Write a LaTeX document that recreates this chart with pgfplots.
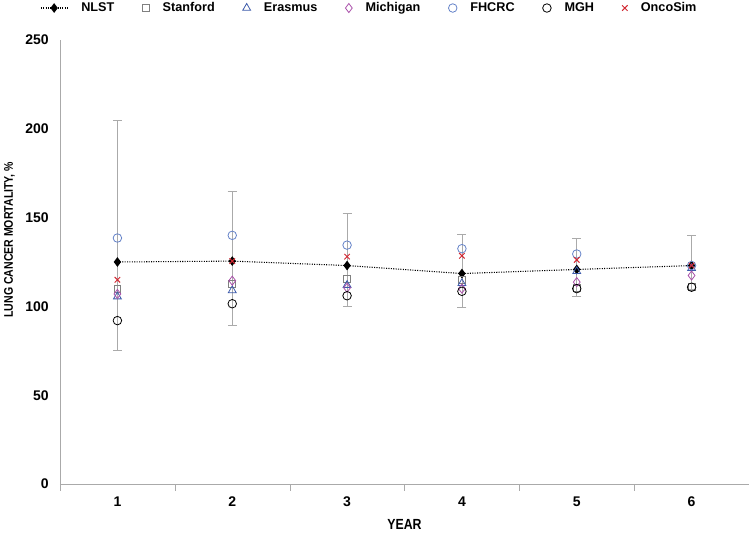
\documentclass[border=0pt]{standalone}
\usepackage{fontspec}
\setmainfont{Liberation Sans}
\newfontfamily\cond{Liberation Sans}[FakeStretch=0.84]
\usepackage{pgfplots}
\pgfplotsset{compat=1.18}
\definecolor{stanc}{RGB}{128,128,128}
\definecolor{erac}{RGB}{60,90,170}
\definecolor{micc}{RGB}{170,80,170}
\definecolor{fhc}{RGB}{100,130,200}
\definecolor{onc}{RGB}{210,40,50}
\definecolor{axc}{RGB}{170,170,170}
\pgfplotsset{
  markleg/.style={legend image code/.code={\draw[##1] plot coordinates {(0pt,0pt)};}},
  lineleg/.style={legend image code/.code={\draw[##1, mark repeat=2, mark phase=2] plot coordinates {(-10pt,0pt)(0pt,0pt)(10pt,0pt)};}},
}
\begin{document}
\begin{tikzpicture}
\begin{axis}[
  at={(0,0)}, anchor=origin,
  scale only axis,
  width=516.75pt, height=333pt,
  xmin=0.5, xmax=6.5, ymin=0, ymax=250,
  axis x line*=bottom, axis y line*=left,
  axis line style={axc, -},
  xtick={1,2,3,4,5,6},
  minor xtick={0.5,1.5,2.5,3.5,4.5,5.5,6.5},
  major tick length=0pt,
  minor tick length=5pt,
  tick align=outside,
  minor tick style={axc},
  ytick={0,50,100,150,200,250},
  tick label style={font=\fontsize{10.5}{12}\selectfont\bfseries},
  /pgf/number format/assume math mode=true,
  xticklabel style={yshift=-6pt},
  yticklabel style={xshift=-5pt},
  xlabel={YEAR},
  ylabel={LUNG CANCER MORTALITY, \%},
  xlabel style={font=\fontsize{11}{13}\selectfont\cond\bfseries, yshift=-3pt},
  ylabel style={font=\fontsize{9.4}{11}\selectfont\cond\bfseries, at={(ticklabel cs:0.55)}, yshift=1pt},
  clip=false,
  legend columns=-1,
  legend style={draw=none, fill=none, inner sep=0pt,
    font=\fontsize{9.5}{11}\selectfont\bfseries,
    at={(-0.029,1.072)}, anchor=west,
    /tikz/every odd column/.append style={column sep=8pt},
    /tikz/every even column/.append style={column sep=19pt}},
  legend cell align=left,
]
% error bars (NLST)
\addplot[draw=none, mark=none, forget plot,
  error bars/.cd, y dir=both, y explicit,
  error bar style={axc, line width=0.6pt},
  error mark options={axc, rotate=90, mark size=3.4pt, line width=0.6pt}]
coordinates {
 (1,125) += (0,80) -= (0,50)
 (2,125.5) += (0,39.5) -= (0,36)
 (3,123) += (0,29.5) -= (0,23)
 (4,118.5) += (0,22) -= (0,19)
 (5,120.8) += (0,17.7) -= (0,15.2)
 (6,123) += (0,17) -= (0,13.5)
};
\addplot[black, densely dotted, line width=0.8pt, mark=diamond*, mark size=3pt, mark options={solid, fill=black}, lineleg]
coordinates {(1,125) (2,125.5) (3,123) (4,118.5) (5,120.8) (6,123)};
\addlegendentry{NLST}
\addplot[only marks, stanc, mark=square, mark size=2.6pt, line width=0.6pt, markleg]
coordinates {(1,110) (2,112.5) (3,115.5) (4,115) (5,110.5) (6,111)};
\addlegendentry{Stanford}
\addplot[only marks, erac, mark=triangle, mark size=3.4pt, line width=0.6pt, markleg]
coordinates {(1,105.5) (2,109) (3,112) (4,113) (5,119.8) (6,121.5)};
\addlegendentry{Erasmus}
\addplot[only marks, micc, mark=diamond, mark size=3.4pt, line width=0.6pt, markleg]
coordinates {(1,107) (2,114.5) (3,110.5) (4,110) (5,113.7) (6,117.4)};
\addlegendentry{Michigan}
\addplot[only marks, fhc, mark=o, mark size=3.2pt, line width=0.6pt, markleg]
coordinates {(1,138.5) (2,140) (3,134.5) (4,132.5) (5,129.5) (6,123)};
\addlegendentry{FHCRC}
\addplot[only marks, black, mark=o, mark size=3.2pt, line width=0.6pt, markleg]
coordinates {(1,92) (2,101.5) (3,106) (4,108.5) (5,110) (6,110.8)};
\addlegendentry{MGH}
\addplot[only marks, onc, mark=x, mark size=2.9pt, line width=0.7pt, markleg]
coordinates {(1,115) (2,125.5) (3,128) (4,128.5) (5,126.2) (6,123)};
\addlegendentry{OncoSim}
\end{axis}
\pgfresetboundingbox
\path (-45pt,-37.5pt) rectangle (516.75pt,363pt);
\end{tikzpicture}
\end{document}
